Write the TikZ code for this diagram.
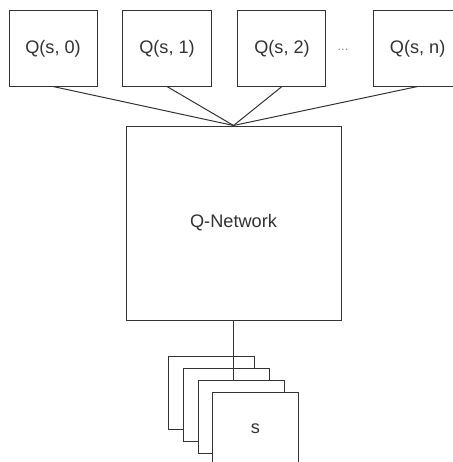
\documentclass[tikz,border=0pt]{standalone}
\usepackage{fontspec}
\setmainfont{Liberation Sans}
\usetikzlibrary{positioning}
\definecolor{lgray}{HTML}{333333}
\definecolor{dgray}{HTML}{888888}
\tikzstyle{qbox} = [rectangle, draw=lgray, line width=0.85pt, fill=white, minimum width=2.64cm, minimum height=2.25cm, text=lgray, font=\fontsize{15.5}{18}\selectfont]
\tikzstyle{net} = [rectangle, draw=lgray, line width=0.85pt, fill=white, minimum width=6.45cm, minimum height=5.82cm, text=lgray, font=\fontsize{15.5}{18}\selectfont]
\tikzstyle{frame} = [rectangle, draw=lgray, line width=0.85pt, fill=white, minimum width=2.58cm, minimum height=2.19cm, text=lgray, font=\fontsize{15.5}{18}\selectfont]
\tikzstyle{wire} = [draw=lgray, line width=0.85pt]

\begin{document}
\begin{tikzpicture}[align=center,node distance = 0.75cm]
  \useasboundingbox (0,0) rectangle (13.56,-13.86);
  \node (q0) [qbox] at (1.59,-1.455) {Q(s, 0)};
  \node (q1) [qbox, right= of q0] {Q(s, 1)};
  \node (q2) [qbox, right= 0.78cm of q1] {Q(s, 2)};
  \node (qn) [qbox, right= 1.4cm of q2] {Q(s, n)};
  \node (dots) [text=dgray, font=\fontsize{11}{12}\selectfont] at (10.29,-1.5) {...};
  \node (qnet) [net] at (7.005,-6.69) {Q-Network};
  \draw [wire] (q0.south) -- (qnet.north);
  \draw [wire] (q1.south) -- (qnet.north);
  \draw [wire] (q2.south) -- (qnet.north);
  \draw [wire] (qn.south) -- (qnet.north);
  \node (f1) [frame, anchor=north west] at (5.04,-10.68) {};
  \node (f2) [frame, xshift=0.45cm, yshift=-0.36cm] at (f1) {};
  \draw [wire] (qnet.south) -- (qnet.south |- f2.north) -- ++(0,-0.36);
  \node (f3) [frame, xshift=0.45cm, yshift=-0.36cm] at (f2) {};
  \node (f4) [frame, xshift=0.42cm, yshift=-0.36cm] at (f3) {s};
\end{tikzpicture}
\end{document}
